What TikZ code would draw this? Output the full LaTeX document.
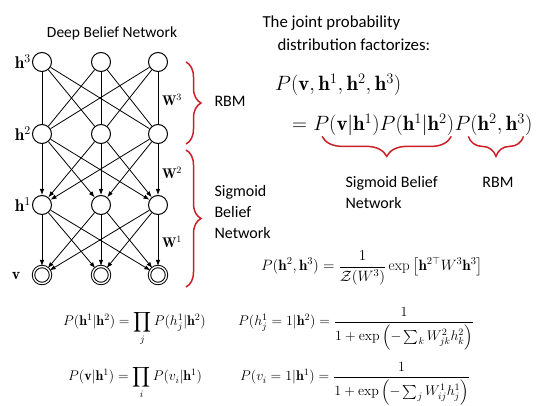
\RequirePackage{fix-cm}
\documentclass[tikz,border=0pt]{standalone}
\usepackage{amsmath}
\usepackage{amssymb}
\usepackage{fontspec}
\setsansfont{Carlito}
\usetikzlibrary{arrows.meta,positioning,decorations.pathreplacing}
\definecolor{bracered}{RGB}{204,32,38}

\begin{document}
\begin{tikzpicture}[
    x=1pt, y=-1pt,
    unit/.style={circle, draw, line width=1pt, minimum size=19pt, inner sep=0pt},
    visible/.style={unit, double, double distance=1.4pt, minimum size=17pt},
    link/.style={line width=0.8pt},
    arr/.style={link, -{Latex[length=6pt, width=4.5pt]}},
    brc/.style={draw=bracered, line width=1.5pt, decorate, decoration={brace, amplitude=#1}},
    brc/.default=15pt,
    txt/.style={font=\sffamily\fontsize{16}{21}\selectfont, align=left},
    lay/.style={font=\fontsize{17}{19}\selectfont, inner sep=1pt},
    eqbig/.style={font=\fontsize{20.7}{24}\selectfont, inner sep=0pt},
    eqsmall/.style={font=\fontsize{14}{16}\selectfont, inner sep=0pt}
]
  \useasboundingbox (0,0) rectangle (539,406);

  % the network
  \node[txt, font=\sffamily\fontsize{15.5}{20}\selectfont] (title) at (112,33) {Deep Belief Network};
  \node[unit] (h31) at (42,62) {};
  \node[unit] (h32) at (101,62) {};
  \node[unit] (h33) at (158,62) {};
  \node[unit] (h21) at (42,134) {};
  \node[unit] (h22) at (101,134) {};
  \node[unit] (h23) at (158,134) {};
  \node[unit] (h11) at (42,205) {};
  \node[unit] (h12) at (101,205) {};
  \node[unit] (h13) at (158,205) {};
  \node[visible] (v1) at (42,275) {};
  \node[visible] (v2) at (101,275) {};
  \node[visible] (v3) at (158,275) {};

  \node[lay, left=0pt of h31] (lh3) {$\mathbf{h}^3$};
  \node[lay, left=0pt of h21] (lh2) {$\mathbf{h}^2$};
  \node[lay, left=0pt of h11] (lh1) {$\mathbf{h}^1$};
  \node[lay, font=\fontsize{16}{18}\selectfont] (lv) at (16,276) {$\mathbf{v}$};
  \node[lay, font=\fontsize{14}{16}\selectfont] (w3) at (172,100) {$\mathbf{W}^3$};
  \node[lay, font=\fontsize{14}{16}\selectfont] (w2) at (172,173) {$\mathbf{W}^2$};
  \node[lay, font=\fontsize{14}{16}\selectfont] (w1) at (172,242) {$\mathbf{W}^1$};

  \foreach \i in {1,2,3}
    \foreach \j in {1,2,3} {
      \draw[link] (h3\i) -- (h2\j);
      \draw[arr] (h2\i) -- (h1\j);
      \draw[arr] (h1\i) -- (v\j);
    }

  % braces beside the layers
  \draw[brc] ([xshift=28pt]h33.center) -- ([xshift=28pt]h23.south);
  \draw[brc] ([xshift=28pt,yshift=-6pt]h23.south) -- ([xshift=28pt,yshift=-3pt]v3.south);
  \node[txt, anchor=west] (rbm) at (211,101) {RBM};
  \node[txt, anchor=west] (sbn) at (211,212) {Sigmoid\\Belief\\Network};

  % factorization
  \node[txt, font=\sffamily\fontsize{16.8}{23}\selectfont, anchor=west] (joint) at (259,33.5)
    {The joint probability\\\hspace*{15pt}distribution factorizes:};
  \node[eqbig, anchor=base west] (joint-eq) at (275,91) {$P(\mathbf{v},\mathbf{h}^1,\mathbf{h}^2,\mathbf{h}^3)$};
  \node[eqbig, anchor=base west] (eq-eq) at (292,131) {$=$};
  \node[eqbig, anchor=base west] (sbn-eq) at ([xshift=5.8pt]eq-eq.base east)
    {$P(\mathbf{v}|\mathbf{h}^1)P(\mathbf{h}^1|\mathbf{h}^2)$};
  \node[eqbig, anchor=base west] (rbm-eq) at (sbn-eq.base east) {$P(\mathbf{h}^2,\mathbf{h}^3)$};

  \draw[brc=20pt] ([xshift=-3pt]sbn-eq.south east) -- ([xshift=9pt]sbn-eq.south west);
  \draw[brc=20pt] ([xshift=-9pt]rbm-eq.south east) -- ([xshift=14pt]rbm-eq.south west);
  \node[txt, anchor=west] (sbn-lbl) at (342,193) {Sigmoid Belief\\Network};
  \node[txt] (rbm-lbl) at (498,182) {RBM};

  % conditionals
  \node[eqsmall, font=\fontsize{15}{17}\selectfont] (rbm-p) at (372,268)
    {$\displaystyle P(\mathbf{h}^2,\mathbf{h}^3) = \frac{1}{\mathcal{Z}(W^3)}\exp\left[\mathbf{h}^{2\top}W^3\mathbf{h}^3\right]$};
  \node[eqsmall, anchor=base west] (p-h1) at (63,326)
    {$\displaystyle P(\mathbf{h}^1|\mathbf{h}^2) = \prod_j P(h^1_j|\mathbf{h}^2)$};
  \node[eqsmall, anchor=base west] (p-v) at (68,381)
    {$\displaystyle P(\mathbf{v}|\mathbf{h}^1) = \prod_i P(v_i|\mathbf{h}^1)$};
  \node[eqsmall, anchor=base west] (p-hj) at (238,326)
    {$\displaystyle P(h^1_j=1|\mathbf{h}^2) = \frac{1}{1+\exp\left(-\sum_k W^2_{jk}h^2_k\right)}$};
  \node[eqsmall, anchor=base west] (p-vi) at (240,381)
    {$\displaystyle P(v_i=1|\mathbf{h}^1) = \frac{1}{1+\exp\left(-\sum_j W^1_{ij}h^1_j\right)}$};
\end{tikzpicture}
\end{document}
